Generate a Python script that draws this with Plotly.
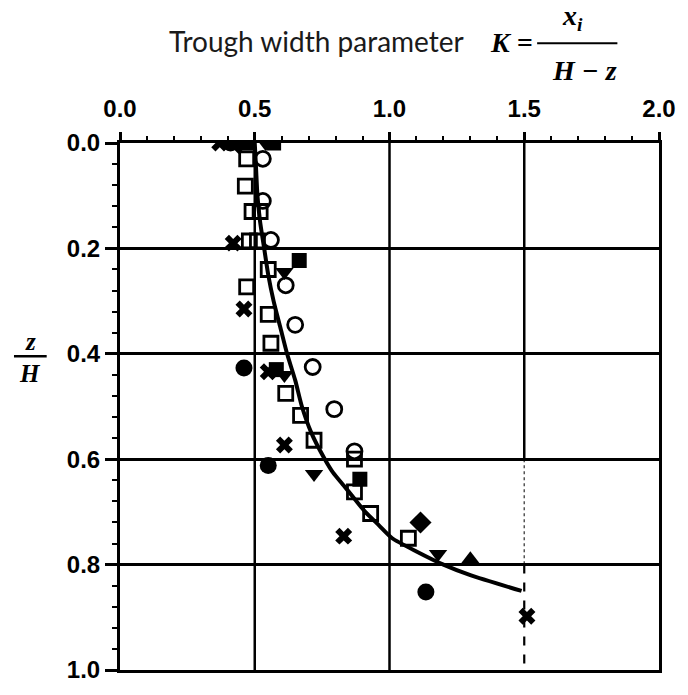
import plotly.graph_objects as go

# ---- data (K = trough width parameter, z/H) ----
curve_K = [0.50, 0.505, 0.51, 0.52, 0.535, 0.55, 0.57, 0.595, 0.62, 0.65, 0.675, 0.71, 0.76, 0.79, 0.83, 0.87, 0.91, 0.96, 1.01, 1.10, 1.20, 1.30, 1.49]
curve_z = [0.00, 0.05, 0.10, 0.15, 0.20, 0.25, 0.30, 0.35, 0.40, 0.45, 0.50, 0.55, 0.60, 0.625, 0.65, 0.675, 0.70, 0.725, 0.75, 0.775, 0.80, 0.82, 0.85]

open_sq_K = [0.47, 0.465, 0.49, 0.52, 0.48, 0.51, 0.55, 0.47, 0.55, 0.56, 0.615, 0.67, 0.72, 0.87, 0.87, 0.93, 1.07]
open_sq_z = [0.03, 0.082, 0.13, 0.13, 0.186, 0.186, 0.24, 0.273, 0.325, 0.38, 0.475, 0.517, 0.564, 0.60, 0.662, 0.703, 0.75]

open_ci_K = [0.53, 0.53, 0.56, 0.615, 0.65, 0.715, 0.795, 0.87]
open_ci_z = [0.03, 0.11, 0.184, 0.27, 0.345, 0.425, 0.505, 0.585]

fill_ci_K = [0.41, 0.46, 0.55, 1.135]
fill_ci_z = [0.00, 0.427, 0.612, 0.852]

cross_K = [0.37, 0.42, 0.46, 0.55, 0.61, 0.83, 1.51]
cross_z = [0.00, 0.19, 0.315, 0.434, 0.573, 0.746, 0.898]

fill_sq_K = [0.47, 0.57, 0.665, 0.58, 0.89]
fill_sq_z = [0.00, 0.00, 0.223, 0.43, 0.638]

fill_tri_dn_K = [0.54, 0.61, 0.61, 0.72, 1.18]
fill_tri_dn_z = [0.00, 0.245, 0.44, 0.628, 0.78]

fill_dia_K = [0.44, 1.115]
fill_dia_z = [0.00, 0.72]

fill_tri_up_K = [1.30]
fill_tri_up_z = [0.79]

x_ticks = [0.0, 0.5, 1.0, 1.5, 2.0]
y_ticks = [0.0, 0.2, 0.4, 0.6, 0.8, 1.0]

# ---- figure ----
W, H = 688, 695
ML, MR, MT, MB = 120, 24, 143, 13

fig = go.Figure()

fig.add_trace(go.Scatter(x=curve_K, y=curve_z, mode="lines",
                         line=dict(color="black", width=4, shape="spline", smoothing=0.6),
                         showlegend=False, hoverinfo="skip"))

def add_markers(xs, ys, symbol, size=15, lw=2.5):
    fig.add_trace(go.Scatter(x=xs, y=ys, mode="markers", showlegend=False,
                             marker=dict(symbol=symbol, size=size, color="black",
                                         line=dict(color="black", width=lw))))

add_markers(open_sq_K, open_sq_z, "square-open", 14, 2.8)
add_markers(open_ci_K, open_ci_z, "circle-open", 15, 2.8)
add_markers(fill_ci_K, fill_ci_z, "circle", 17, 0)
add_markers(cross_K, cross_z, "x", 15, 0)
add_markers(fill_sq_K, fill_sq_z, "square", 15, 0)
add_markers(fill_tri_dn_K, fill_tri_dn_z, "triangle-down", 16, 0)
add_markers(fill_dia_K, fill_dia_z, "diamond", 17, 0)
add_markers(fill_tri_up_K, fill_tri_up_z, "triangle-up", 16, 0)

# vertical grid lines (x = 0.5, 1.0 full; x = 1.5 solid upper, dotted/dashed lower)
grid_x_full = [0.5, 1.0]
for gx in grid_x_full:
    fig.add_shape(type="line", xref="x", yref="y", x0=gx, x1=gx, y0=0, y1=1,
                  line=dict(color="black", width=2.5), layer="below")
fig.add_shape(type="line", xref="x", yref="y", x0=1.5, x1=1.5, y0=0, y1=0.6,
              line=dict(color="black", width=2.5), layer="below")
fig.add_shape(type="line", xref="x", yref="y", x0=1.5, x1=1.5, y0=0.6, y1=0.8,
              line=dict(color="#555", width=1.5, dash="dot"), layer="below")
fig.add_shape(type="line", xref="x", yref="y", x0=1.5, x1=1.5, y0=0.8, y1=1,
              line=dict(color="black", width=2.2, dash="dash"), layer="below")

tickfont = dict(family="Liberation Sans", size=24, color="black", weight="bold")

fig.update_xaxes(side="top", range=[0, 2], tickvals=x_ticks, tickformat=".1f",
                 showgrid=False, zeroline=False,
                 showline=True, linecolor="black", linewidth=3, mirror=True,
                 ticks="outside", ticklen=8, tickwidth=2.5, tickcolor="black",
                 ticklabelstandoff=5,
                 minor=dict(dtick=0.1, ticks="outside", ticklen=4, tickwidth=2, tickcolor="black"),
                 tickfont=tickfont)
fig.update_yaxes(range=[1, 0], tickvals=y_ticks, tickformat=".1f",
                 showgrid=True, gridcolor="black", gridwidth=2.5, zeroline=False,
                 showline=True, linecolor="black", linewidth=3, mirror=True,
                 ticks="outside", ticklen=12, tickwidth=2.5, tickcolor="black",
                 ticklabelstandoff=0,
                 minor=dict(dtick=0.04, ticks="outside", ticklen=5, tickwidth=2, tickcolor="black",
                            showgrid=False),
                 tickfont=tickfont)

def px(xp):
    return (xp - ML) / (W - ML - MR)

def py(yp):
    return 1 - (yp - MT) / (H - MT - MB)

serif = dict(family="Liberation Serif", size=28, color="black", weight="bold", style="italic")
serif_y = dict(family="Liberation Serif", size=25, color="black", weight="bold", style="italic")

annotations = [
    dict(text="Trough width parameter", x=px(318), y=py(39),
         font=dict(family="Lato", size=28, color="#1a1a1a")),
    dict(text="K =", x=px(515), y=py(40), font=serif),
    dict(text="x<sub>i</sub>", x=px(577), y=py(15), font=serif),
    dict(text="H − z", x=px(589), y=py(69), font=serif),
    dict(text="z", x=px(30), y=py(346), font=serif_y),
    dict(text="H", x=px(29), y=py(379), font=serif_y),
]
for a in annotations:
    a.update(xref="paper", yref="paper", showarrow=False, xanchor="center", yanchor="middle")
fig.update_layout(annotations=annotations)

fig.add_shape(type="line", xref="paper", yref="paper", x0=px(541), x1=px(622), y0=py(41), y1=py(41),
              line=dict(color="black", width=2))
fig.add_shape(type="line", xref="paper", yref="paper", x0=px(13), x1=px(46), y0=py(361), y1=py(361),
              line=dict(color="black", width=2.5))

fig.update_layout(width=W, height=H, margin=dict(l=ML, r=MR, t=MT, b=MB),
                  plot_bgcolor="white", paper_bgcolor="white", showlegend=False)

fig.write_html("out.html")
